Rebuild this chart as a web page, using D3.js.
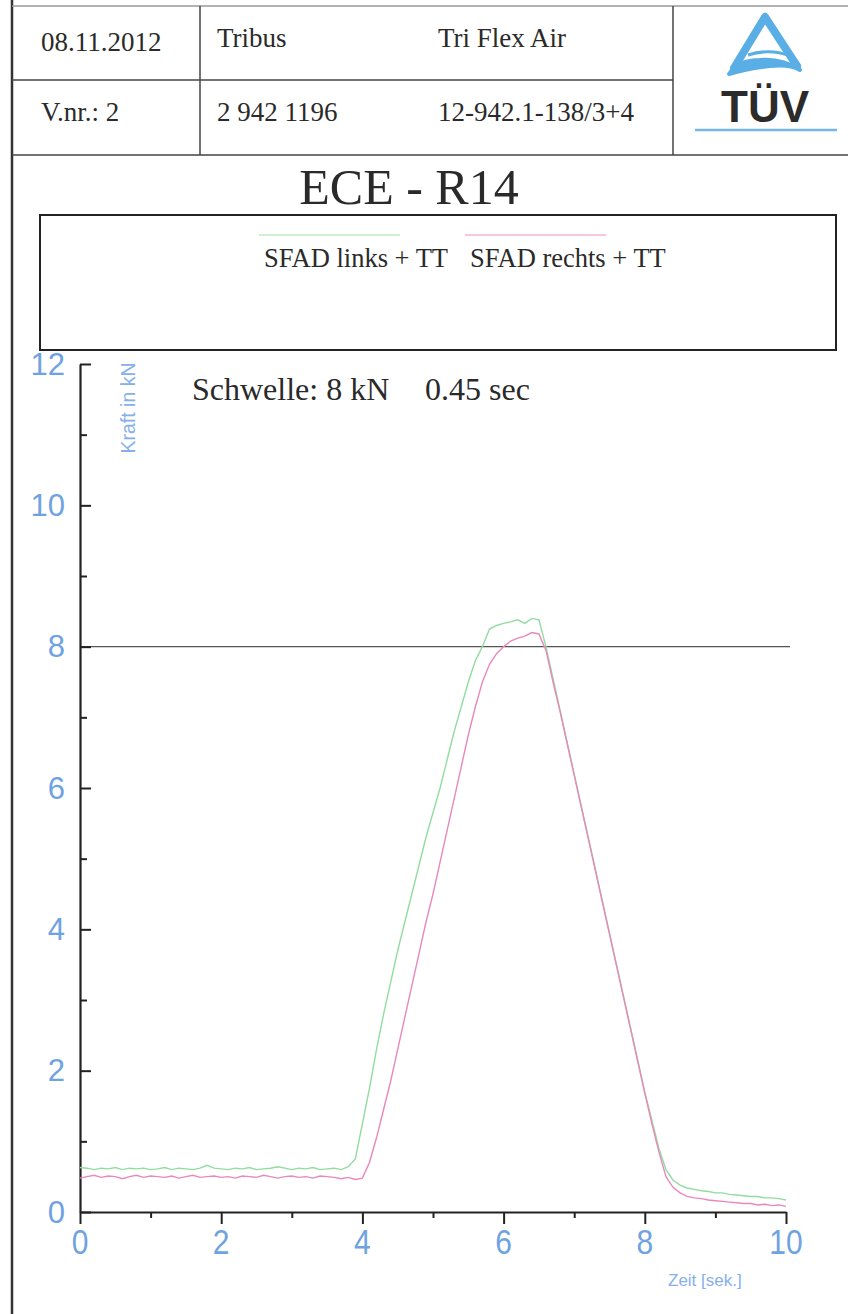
<!DOCTYPE html>
<html>
<head>
<meta charset="utf-8">
<script src="https://cdn.jsdelivr.net/npm/d3@7"></script>
<style>
html,body{margin:0;padding:0;background:#fff;}
svg{display:block;}
</style>
</head>
<body>
<svg id="chart" width="848" height="1314"></svg>
<script>
// ---- data ----
const headerRow1 = ["08.11.2012", "Tribus", "Tri Flex Air"];
const headerRow2 = ["V.nr.: 2", "2 942 1196", "12-942.1-138/3+4"];
const title = "ECE - R14";
const seriesNames = ["SFAD links + TT", "SFAD rechts + TT"];
const thresholdLabel = ["Schwelle: 8 kN", "0.45 sec"];
const threshold = 8;
const yTicks = [0, 2, 4, 6, 8, 10, 12];
const xTicks = [0, 2, 4, 6, 8, 10];
const yLabel = "Kraft in kN";
const xLabel = "Zeit [sek.]";
// time samples every 0.1 s, 0..10
const time = d3.range(0, 101).map(i => i / 10);
const links = [
  0.63,0.62,0.60,0.62,0.61,0.63,0.60,0.62,0.61,0.62,
  0.60,0.61,0.63,0.60,0.62,0.61,0.60,0.62,0.66,0.62,
  0.61,0.60,0.62,0.61,0.63,0.60,0.61,0.62,0.64,0.62,
  0.60,0.62,0.61,0.63,0.60,0.61,0.62,0.60,0.64,0.75,
  1.25,1.75,2.30,2.80,3.25,3.70,4.10,4.50,4.90,5.30,
  5.65,6.00,6.40,6.80,7.15,7.50,7.80,8.00,8.25,8.30,
  8.33,8.35,8.38,8.33,8.40,8.38,8.00,7.55,7.10,6.65,
  6.20,5.75,5.30,4.85,4.40,3.95,3.50,3.05,2.60,2.15,
  1.70,1.30,0.90,0.60,0.45,0.38,0.34,0.32,0.30,0.29,
  0.27,0.27,0.25,0.24,0.23,0.22,0.22,0.20,0.20,0.19,
  0.17
];
const rechts = [
  0.48,0.50,0.52,0.49,0.51,0.50,0.47,0.50,0.52,0.49,
  0.51,0.50,0.49,0.51,0.48,0.50,0.52,0.49,0.50,0.51,
  0.49,0.50,0.48,0.51,0.50,0.49,0.52,0.50,0.48,0.50,
  0.51,0.49,0.50,0.48,0.51,0.50,0.49,0.47,0.49,0.46,
  0.48,0.70,1.05,1.45,1.85,2.30,2.75,3.20,3.65,4.10,
  4.50,4.95,5.40,5.85,6.30,6.75,7.15,7.50,7.75,7.90,
  8.00,8.08,8.12,8.15,8.20,8.18,7.95,7.50,7.08,6.63,
  6.18,5.73,5.28,4.83,4.38,3.93,3.48,3.03,2.58,2.13,
  1.68,1.25,0.85,0.50,0.35,0.27,0.22,0.20,0.19,0.17,
  0.16,0.15,0.14,0.13,0.12,0.12,0.10,0.11,0.09,0.10,
  0.08
];
const seriesColors = ["#92dca0", "#e888bc"];

// ---- drawing ----
const svg = d3.select("#chart");
const serif = "'Liberation Serif','Times New Roman',serif";
const sans = "'Liberation Sans',Arial,sans-serif";
const blue = "#6fa2e2";
const ink = "#2a2a2a";

// page frame
svg.append("line").attr("x1", 12).attr("x2", 12).attr("y1", 0).attr("y2", 1314)
  .attr("stroke", "#333").attr("stroke-width", 2.5);
// header table
const tbl = svg.append("g").attr("stroke", "#444").attr("stroke-width", 1.5);
tbl.append("line").attr("x1", 12).attr("x2", 848).attr("y1", 6).attr("y2", 6).attr("stroke", "#999");
tbl.append("line").attr("x1", 12).attr("x2", 673).attr("y1", 80).attr("y2", 80);
tbl.append("line").attr("x1", 12).attr("x2", 848).attr("y1", 155).attr("y2", 155);
tbl.append("line").attr("x1", 200).attr("x2", 200).attr("y1", 6).attr("y2", 155);
tbl.append("line").attr("x1", 673).attr("x2", 673).attr("y1", 6).attr("y2", 155);

const colX = [41, 217, 438];
headerRow1.forEach((t, i) => svg.append("text").attr("x", colX[i]).attr("y", i === 0 ? 51 : 47)
  .attr("font-family", serif).attr("font-size", 27).attr("fill", ink).text(t));
headerRow2.forEach((t, i) => svg.append("text").attr("x", colX[i]).attr("y", 121)
  .attr("font-family", serif).attr("font-size", 27).attr("fill", ink).text(t));

// TÜV logo
const logo = svg.append("g");
logo.append("path")
  .attr("d", "M765,17 L734,68 M765,17 L797,66")
  .attr("fill", "none").attr("stroke", "#5aaee6").attr("stroke-width", 8).attr("stroke-linecap", "round");
logo.append("path")
  .attr("d", "M729,74 Q738,60 760,60 Q782,58 800,70 Q790,64 770,66 Q748,68 729,74 Z")
  .attr("fill", "#5aaee6").attr("stroke", "#5aaee6").attr("stroke-width", 4).attr("stroke-linejoin", "round");
logo.append("path").attr("d", "M748,55 Q770,48 790,56").attr("fill", "none")
  .attr("stroke", "#5aaee6").attr("stroke-width", 3);
logo.append("text").attr("x", 765).attr("y", 122).attr("text-anchor", "middle")
  .attr("font-family", sans).attr("font-weight", "bold").attr("font-size", 44)
  .attr("fill", "#2b2b2b").text("TÜV");
logo.append("line").attr("x1", 695).attr("x2", 837).attr("y1", 130).attr("y2", 130)
  .attr("stroke", "#74b6e8").attr("stroke-width", 2.5);

// title
svg.append("text").attr("x", 409).attr("y", 204).attr("text-anchor", "middle")
  .attr("font-family", serif).attr("font-size", 50).attr("fill", ink).text(title);

// legend box
svg.append("rect").attr("x", 40).attr("y", 215).attr("width", 796).attr("height", 135)
  .attr("fill", "none").attr("stroke", "#222").attr("stroke-width", 2);
const legX = [264, 470];
seriesNames.forEach((n, i) => {
  svg.append("line").attr("x1", legX[i] - 5).attr("x2", legX[i] + 136).attr("y1", 235).attr("y2", 235)
    .attr("stroke", seriesColors[i]).attr("stroke-width", 1.3).attr("opacity", 0.6);
  svg.append("text").attr("x", legX[i]).attr("y", 267)
    .attr("font-family", serif).attr("font-size", 26.5).attr("fill", ink).text(n);
});

// scales
const x = d3.scaleLinear().domain([0, 10]).range([80, 786]);
const y = d3.scaleLinear().domain([0, 12]).range([1212, 364]);

// threshold line
svg.append("line").attr("x1", x(0)).attr("x2", 790).attr("y1", y(threshold)).attr("y2", y(threshold))
  .attr("stroke", "#555").attr("stroke-width", 1.3);

// axes
const yAxis = d3.axisRight(y).tickValues(d3.range(0, 13, 1)).tickSize(0).tickFormat("");
const gy = svg.append("g").attr("transform", `translate(${x(0)},0)`).call(yAxis);
gy.select(".domain").attr("stroke", "#222").attr("stroke-width", 2.2);
gy.selectAll(".tick line").attr("stroke", "#222").attr("stroke-width", 2)
  .attr("x2", d => d % 2 === 0 ? 11 : 7);
svg.selectAll(".ylab").data(yTicks).enter().append("text")
  .attr("x", 65).attr("y", d => y(d) + 10.5).attr("text-anchor", "end")
  .attr("font-family", sans).attr("font-size", 31).attr("fill", blue).text(d => d);

const xAxis = d3.axisBottom(x).tickValues(d3.range(0, 11, 1)).tickSize(0).tickFormat("");
const gx = svg.append("g").attr("transform", `translate(0,${y(0)})`).call(xAxis);
gx.select(".domain").attr("stroke", "#222").attr("stroke-width", 2.2);
gx.selectAll(".tick line").attr("stroke", "#222").attr("stroke-width", 2)
  .attr("y2", d => d % 2 === 0 ? 12 : 6);
svg.selectAll(".xlab").data(xTicks).enter().append("text")
  .attr("transform", d => `translate(${x(d)},${y(0) + 42}) scale(1,1.15)`)
  .attr("text-anchor", "middle")
  .attr("font-family", sans).attr("font-size", 30).attr("fill", blue).text(d => d);

svg.append("text").attr("transform", `translate(135,408) rotate(-90)`).attr("text-anchor", "middle")
  .attr("font-family", sans).attr("font-size", 19.5).attr("fill", "#86b0ea").text(yLabel);
svg.append("text").attr("x", 668).attr("y", 1286)
  .attr("font-family", sans).attr("font-size", 17).attr("fill", "#86b0ea").text(xLabel);

svg.append("text").attr("x", 192).attr("y", 400)
  .attr("font-family", serif).attr("font-size", 32).attr("fill", ink).text(thresholdLabel[0]);
svg.append("text").attr("x", 425).attr("y", 400)
  .attr("font-family", serif).attr("font-size", 32).attr("fill", ink).text(thresholdLabel[1]);

// series
const line = d3.line().x((d, i) => x(time[i])).y(d => y(d));
[links, rechts].forEach((s, i) => {
  svg.append("path").datum(s).attr("d", line).attr("fill", "none")
    .attr("stroke", seriesColors[i]).attr("stroke-width", 1.4);
});
</script>
</body>
</html>
